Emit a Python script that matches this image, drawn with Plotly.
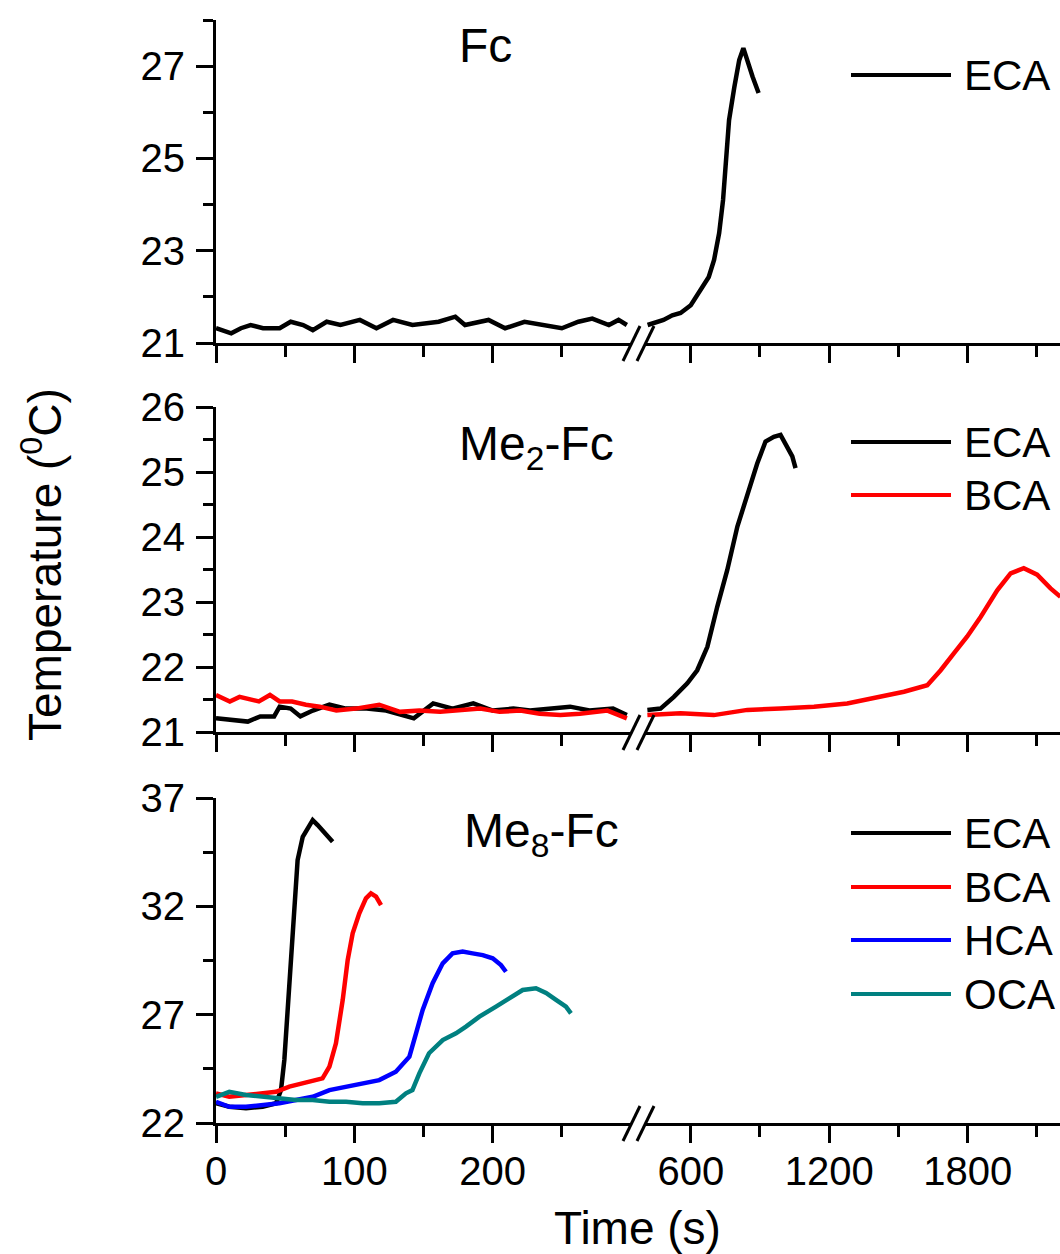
import plotly.graph_objects as go

# ---------------- data ----------------
# Fc panel, ECA
fc_eca_t_left = [0, 11, 18, 25, 34, 46, 54, 63, 70, 80, 90, 104, 116, 128, 142, 161, 173, 180, 197, 209, 223, 238, 250, 262, 272, 284, 291, 297]
fc_eca_T_left = [21.32, 21.21, 21.32, 21.39, 21.32, 21.32, 21.46, 21.39, 21.28, 21.46, 21.39, 21.50, 21.32, 21.50, 21.39, 21.46, 21.57, 21.39, 21.50, 21.32, 21.46, 21.39, 21.32, 21.46, 21.53, 21.39, 21.50, 21.39]
fc_eca_t_right = [413, 450, 482, 520, 556, 600, 643, 678, 701, 723, 740, 753, 766, 789, 810, 828, 846, 868, 894]
fc_eca_T_right = [21.39, 21.45, 21.50, 21.60, 21.65, 21.82, 22.15, 22.43, 22.80, 23.38, 24.10, 24.97, 25.83, 26.55, 27.13, 27.39, 27.07, 26.77, 26.42]

# Me2-Fc panel
me2_eca_t_left = [0, 11, 23, 32, 42, 46, 54, 61, 70, 82, 94, 109, 123, 143, 157, 171, 186, 200, 215, 227, 241, 256, 270, 287, 297]
me2_eca_T_left = [21.21, 21.18, 21.16, 21.24, 21.24, 21.39, 21.36, 21.24, 21.33, 21.42, 21.36, 21.36, 21.33, 21.21, 21.44, 21.36, 21.44, 21.33, 21.36, 21.33, 21.36, 21.39, 21.33, 21.36, 21.26]
me2_bca_t_left = [0, 10, 17, 24, 31, 39, 46, 55, 65, 75, 87, 101, 118, 133, 147, 162, 176, 191, 205, 220, 234, 249, 263, 272, 283, 297]
me2_bca_T_left = [21.57, 21.47, 21.54, 21.50, 21.47, 21.57, 21.47, 21.47, 21.42, 21.39, 21.33, 21.36, 21.42, 21.31, 21.33, 21.31, 21.33, 21.36, 21.31, 21.33, 21.28, 21.26, 21.28, 21.31, 21.33, 21.21]
me2_eca_t_right = [412, 469, 527, 585, 628, 672, 715, 758, 802, 845, 888, 924, 960, 989, 1018, 1040, 1054]
me2_eca_T_right = [21.34, 21.36, 21.54, 21.75, 21.95, 22.31, 22.93, 23.49, 24.16, 24.67, 25.13, 25.47, 25.54, 25.57, 25.39, 25.24, 25.06]
me2_bca_t_right = [412, 556, 700, 845, 989, 1134, 1278, 1423, 1524, 1625, 1683, 1740, 1798, 1856, 1928, 1986, 2043, 2101, 2159, 2202]
me2_bca_T_right = [21.26, 21.29, 21.26, 21.34, 21.36, 21.39, 21.44, 21.54, 21.62, 21.72, 21.95, 22.21, 22.47, 22.77, 23.18, 23.44, 23.52, 23.42, 23.21, 23.08]

# Me8-Fc panel
me8_eca_t = [0, 9.6, 21.7, 33.7, 43.4, 47.0, 49.4, 51.8, 54.2, 56.6, 59.0, 62.7, 67.5, 69.9, 73.5, 77.0, 80.7, 84.3]
me8_eca_T = [22.91, 22.75, 22.68, 22.75, 22.91, 23.52, 24.91, 27.22, 30.29, 32.14, 34.14, 35.21, 35.75, 35.98, 35.75, 35.52, 35.29, 34.98]
me8_bca_t = [0, 9.6, 21.7, 33.7, 43.4, 53.0, 62.7, 72.3, 77.0, 82.0, 86.7, 91.6, 95.2, 98.8, 103.6, 108.4, 112.0, 115.7, 119.3]
me8_bca_T = [23.37, 23.21, 23.29, 23.37, 23.44, 23.68, 23.83, 23.98, 24.06, 24.60, 25.68, 27.68, 29.52, 30.75, 31.68, 32.37, 32.60, 32.45, 32.06]
me8_hca_t = [0, 9.6, 21.7, 33.7, 45.8, 57.8, 69.9, 82.0, 94.0, 106.0, 118.0, 130.0, 139.8, 144.6, 149.4, 156.6, 163.9, 171.0, 178.3, 185.5, 192.8, 200.0, 206.0, 209.6]
me8_hca_T = [22.98, 22.75, 22.75, 22.83, 22.91, 23.06, 23.21, 23.52, 23.68, 23.83, 23.98, 24.37, 25.06, 26.14, 27.22, 28.45, 29.37, 29.83, 29.91, 29.83, 29.75, 29.60, 29.29, 28.98]
me8_oca_t = [0, 9.6, 21.7, 33.7, 45.8, 57.8, 69.9, 82.0, 94.0, 106.0, 118.0, 130.0, 137.3, 142.0, 147.0, 154.0, 163.9, 173.5, 180.7, 190.4, 202.4, 212.0, 221.7, 231.3, 238.6, 245.8, 253.0, 256.6]
me8_oca_T = [23.21, 23.44, 23.29, 23.21, 23.14, 23.06, 23.06, 22.98, 22.98, 22.91, 22.91, 22.98, 23.37, 23.52, 24.29, 25.22, 25.83, 26.14, 26.45, 26.91, 27.37, 27.75, 28.14, 28.22, 28.00, 27.68, 27.37, 27.06]

panel_titles = ["Fc", "Me<sub>2</sub>-Fc", "Me<sub>8</sub>-Fc"]
series_names = ["ECA", "BCA", "HCA", "OCA"]
series_colors = ["#000000", "#FF0000", "#0000FF", "#008080"]

left_ticks = [0, 100, 200]
left_minor = [50, 150, 250]
right_ticks = [600, 1200, 1800]
right_minor = [900, 1500, 2100]
y1_ticks, y1_minor = [21, 23, 25, 27], [22, 24, 26, 28]
y2_ticks, y2_minor = [21, 22, 23, 24, 25, 26], [21.5, 22.5, 23.5, 24.5, 25.5]
y3_ticks, y3_minor = [22, 27, 32, 37], [24.5, 29.5, 34.5]

# ---------------- layout helpers ----------------
W, H = 1060, 1254
FONT = "Liberation Sans, Arial, sans-serif"


def px(x):
    return x / W


def py(y):
    return 1 - y / H


LW = 4.5
fig = go.Figure()


def add(t, T, color, xa, ya):
    fig.add_trace(go.Scatter(x=t, y=T, mode="lines", xaxis=xa, yaxis=ya,
                             line=dict(color=color, width=LW), showlegend=False,
                             hoverinfo="skip"))


add(fc_eca_t_left, fc_eca_T_left, series_colors[0], "x", "y")
add(fc_eca_t_right, fc_eca_T_right, series_colors[0], "x2", "y")
add(me2_eca_t_left, me2_eca_T_left, series_colors[0], "x3", "y2")
add(me2_bca_t_left, me2_bca_T_left, series_colors[1], "x3", "y2")
add(me2_eca_t_right, me2_eca_T_right, series_colors[0], "x4", "y2")
add(me2_bca_t_right, me2_bca_T_right, series_colors[1], "x4", "y2")
add(me8_eca_t, me8_eca_T, series_colors[0], "x5", "y3")
add(me8_bca_t, me8_bca_T, series_colors[1], "x5", "y3")
add(me8_hca_t, me8_hca_T, series_colors[2], "x5", "y3")
add(me8_oca_t, me8_oca_T, series_colors[3], "x5", "y3")
# empty trace so the right-hand segment of the bottom panel gets its axis
fig.add_trace(go.Scatter(x=[None], y=[None], mode="lines", xaxis="x6", yaxis="y3",
                         showlegend=False, hoverinfo="skip"))

tickfont = dict(family=FONT, size=40, color="black")
axis_common = dict(showline=True, linewidth=3, linecolor="black", ticks="outside",
                   ticklen=17, tickwidth=3, tickcolor="black", showgrid=False,
                   zeroline=False, tickfont=tickfont, fixedrange=True, automargin=False)

# panel pixel extents (top, bottom)
panels = [(20, 343), (407, 732), (798, 1123)]
xl_dom = [px(216), px(631)]
xr_dom = [px(644.6), 1.0]

layout = dict(width=W, height=H, margin=dict(l=0, r=0, t=0, b=0, autoexpand=False),
              paper_bgcolor="white", plot_bgcolor="white", showlegend=False)

yinfo = [(y1_ticks, y1_minor, [21, 28]), (y2_ticks, y2_minor, [21, 26]), (y3_ticks, y3_minor, [22, 37])]
for i, (top, bot) in enumerate(panels):
    yname = "yaxis" if i == 0 else f"yaxis{i + 1}"
    yref = "y" if i == 0 else f"y{i + 1}"
    xl = 2 * i + 1
    xr = 2 * i + 2
    xl_name = "xaxis" if xl == 1 else f"xaxis{xl}"
    xl_ref = "x" if xl == 1 else f"x{xl}"
    ticks, minor, rng = yinfo[i]
    layout[yname] = dict(axis_common, domain=[py(bot), py(top)], range=rng,
                         anchor=xl_ref, tickmode="array", tickvals=ticks,
                         ticklabelstandoff=3,
                         minor=dict(tickmode="array", tickvals=minor, ticks="outside",
                                    ticklen=10, tickwidth=3, tickcolor="black"))
    show_lbl = i == 2
    layout[xl_name] = dict(axis_common, domain=xl_dom, range=[0, 300], anchor=yref,
                           tickmode="array", tickvals=left_ticks, showticklabels=show_lbl,
                           ticklabelstandoff=-6,
                           minor=dict(tickmode="array", tickvals=left_minor, ticks="outside",
                                      ticklen=11, tickwidth=3, tickcolor="black"))
    layout[f"xaxis{xr}"] = dict(axis_common, domain=xr_dom, range=[400, 2200], anchor=yref,
                                tickmode="array", tickvals=right_ticks, showticklabels=show_lbl,
                                ticklabelstandoff=-6,
                                minor=dict(tickmode="array", tickvals=right_minor, ticks="outside",
                                           ticklen=11, tickwidth=3, tickcolor="black"))

fig.update_layout(**layout)

shapes = []
annotations = []
# axis break marks
for top, bot in panels:
    for x0 in (623, 637):
        shapes.append(dict(type="line", xref="paper", yref="paper",
                           x0=px(x0), y0=py(bot + 18), x1=px(x0 + 17), y1=py(bot - 17),
                           line=dict(color="black", width=3)))

# panel titles
title_pos = [(485, 45), (536, 447), (541, 834)]
for txt, (x, y) in zip(panel_titles, title_pos):
    annotations.append(dict(text=txt, x=px(x), y=py(y), xref="paper", yref="paper",
                            xanchor="center", yanchor="middle", showarrow=False,
                            font=dict(family=FONT, size=48, color="black")))

# legends (line sample + label)
legend_rows = [[75], [442, 495], [833, 887, 940, 994]]
for rows in legend_rows:
    for k, y in enumerate(rows):
        shapes.append(dict(type="line", xref="paper", yref="paper",
                           x0=px(851), x1=px(951), y0=py(y), y1=py(y),
                           line=dict(color=series_colors[k], width=4)))
        annotations.append(dict(text=series_names[k], x=px(962), y=py(y), xref="paper",
                                yref="paper", xanchor="left", yanchor="middle",
                                showarrow=False,
                                font=dict(family=FONT, size=42, color="black")))

# axis titles
annotations.append(dict(text="Temperature (<sup>0</sup>C)", x=px(42), y=py(565),
                        xref="paper", yref="paper", textangle=-90, showarrow=False,
                        xanchor="center", yanchor="middle",
                        font=dict(family=FONT, size=46, color="black")))
annotations.append(dict(text="Time (s)", x=px(637), y=py(1228), xref="paper", yref="paper",
                        xanchor="center", yanchor="middle", showarrow=False,
                        font=dict(family=FONT, size=46, color="black")))

fig.update_layout(shapes=shapes, annotations=annotations)
fig.write_html("out.html")
